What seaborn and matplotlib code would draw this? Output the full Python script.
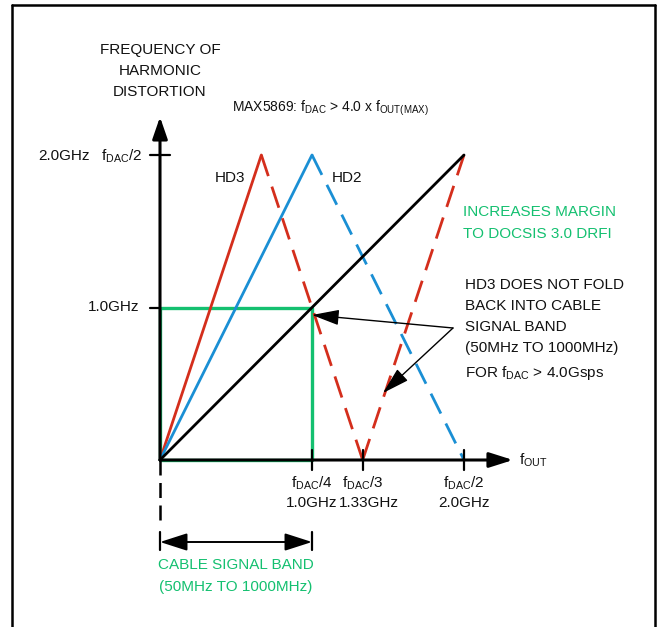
import matplotlib
matplotlib.use("Agg")
import matplotlib.pyplot as plt
from matplotlib import font_manager
from matplotlib.lines import Line2D
import seaborn as sns
import numpy as np

# ---------------- data (GHz) ----------------
fund_x = [0.0, 2.0]
fund_y = [0.0, 2.0]
hd2_solid_x = [0.0, 1.0]
hd2_solid_y = [0.0, 2.0]
hd2_dash_x = [1.0, 2.0]
hd2_dash_y = [2.0, 0.0]
hd3_solid_x = [0.0, 2.0 / 3]
hd3_solid_y = [0.0, 2.0]
hd3_dash1_x = [2.0 / 3, 4.0 / 3]
hd3_dash1_y = [2.0, 0.0]
hd3_dash2_x = [4.0 / 3, 2.0]
hd3_dash2_y = [0.0, 2.0]
band_x = [0.0, 0.0, 1.0, 1.0, 0.0]
band_y = [0.0, 1.0, 1.0, 0.0, 0.0]
xtick_pos = [1.0, 4.0 / 3, 2.0]
xtick_top = ["f$_{\\mathrm{DAC}}$/4", "f$_{\\mathrm{DAC}}$/3", "f$_{\\mathrm{DAC}}$/2"]
xtick_bot = ["1.0GHz", "1.33GHz", "2.0GHz"]
ytick_pos = [1.0, 2.0]

RED = "#d42e1c"
BLUE = "#1a8fd4"
GREEN = "#14c070"

sns.set_theme(style="white")
names = {f.name for f in font_manager.fontManager.ttflist}
if "Liberation Sans Narrow" in names:
    FONT, FS, FS_S = "Liberation Sans Narrow", 13, 11.5
else:
    FONT, FS, FS_S = "Liberation Sans", 11, 10
plt.rcParams["font.family"] = [FONT, "DejaVu Sans"]
plt.rcParams["mathtext.fontset"] = "custom"
plt.rcParams["mathtext.rm"] = FONT
plt.rcParams["mathtext.it"] = FONT
plt.rcParams["mathtext.bf"] = FONT

W, H = 657, 627
fig = plt.figure(figsize=(W / 100, H / 100), dpi=100)
ax = fig.add_axes([0, 0, 1, 1])
SX, SY = 152.0, 152.5
OX, OY = 160, 460
ax.set_xlim(-OX / SX, (W - OX) / SX)
ax.set_ylim((OY - H) / SY, OY / SY)
ax.axis("off")


def P(px, py):
    return (px / W, 1 - py / H)


def D(px, py):
    return ((px - OX) / SX, (OY - py) / SY)


LW = 2.0
DASH = (8, 4)
TXT = "#111111"

# green band rectangle
sns.lineplot(x=band_x, y=band_y, color=GREEN, lw=2.4, sort=False, estimator=None, ax=ax)

# curves
sns.lineplot(x=hd3_solid_x, y=hd3_solid_y, color=RED, lw=LW, sort=False, estimator=None, ax=ax)
sns.lineplot(x=hd2_solid_x, y=hd2_solid_y, color=BLUE, lw=LW, sort=False, estimator=None, ax=ax)
for xs, ys, c in [(hd3_dash1_x, hd3_dash1_y, RED), (hd3_dash2_x, hd3_dash2_y, RED),
                  (hd2_dash_x, hd2_dash_y, BLUE)]:
    l = sns.lineplot(x=xs, y=ys, color=c, lw=LW, sort=False, estimator=None, ax=ax).lines[-1]
    l.set_dashes(DASH)
sns.lineplot(x=fund_x, y=fund_y, color="black", lw=LW, sort=False, estimator=None, ax=ax)

# axes with arrows
ax.annotate("", xy=(0, (OY - 117) / SY), xytext=(0, 0),
            arrowprops=dict(arrowstyle="-|>,head_length=1.1,head_width=0.38", color="black",
                            lw=2.2, shrinkA=0, shrinkB=0))
ax.annotate("", xy=((513 - OX) / SX, 0), xytext=(0, 0),
            arrowprops=dict(arrowstyle="-|>,head_length=1.2,head_width=0.38", color="black",
                            lw=2.2, shrinkA=0, shrinkB=0))

# ticks
t = 10 / SX
for yv in ytick_pos:
    ax.plot([-t, t if yv == 2.0 else 0], [yv, yv], color="black", lw=1.6)
for xv in xtick_pos:
    ax.plot([xv, xv], [-t, t], color="black", lw=1.6)

# dashed vertical below origin
ax.plot([0, 0], [0, (OY - 523) / SY], color="black", lw=1.8, dashes=(6, 3))
# double arrow for band
yb = (OY - 542) / SY
ax.annotate("", xy=(1.0, yb), xytext=(0, yb),
            arrowprops=dict(arrowstyle="<|-|>,head_length=1.4,head_width=0.45", color="black",
                            lw=1.4, shrinkA=0, shrinkB=0))
for xv in [0.0, 1.0]:
    ax.plot([xv, xv], [(OY - 532) / SY, (OY - 550) / SY], color="black", lw=1.6)

# annotation arrows
src = D(453, 328)
for tgt in [D(312, 315), D(383, 393)]:
    ax.annotate("", xy=tgt, xytext=src,
                arrowprops=dict(arrowstyle="-|>,head_length=1.4,head_width=0.4", color="black",
                                lw=1.0, shrinkA=0, shrinkB=0))

# texts
fig.text(*P(160, 71), "FREQUENCY OF\nHARMONIC\nDISTORTION", ha="center", va="center",
         fontsize=FS, linespacing=1.64, color=TXT)
fig.text(*P(232, 108), "MAX5869: f$_{\\mathrm{DAC}}$ > 4.0 x f$_{\\mathrm{OUT(MAX)}}$",
         ha="left", va="center", fontsize=FS_S, color=TXT)
fig.text(*P(38, 156), "2.0GHz", ha="left", va="center", fontsize=FS, color=TXT)
fig.text(*P(142, 156), "f$_{\\mathrm{DAC}}$/2", ha="right", va="center", fontsize=FS, color=TXT)
fig.text(*P(139, 307), "1.0GHz", ha="right", va="center", fontsize=FS, color=TXT)
fig.text(*P(230, 178), "HD3", ha="center", va="center", fontsize=FS, color=TXT)
fig.text(*P(347, 178), "HD2", ha="center", va="center", fontsize=FS, color=TXT)
fig.text(*P(463, 223), "INCREASES MARGIN\nTO DOCSIS 3.0 DRFI", ha="left", va="center",
         fontsize=FS, color=GREEN, linespacing=1.78)
fig.text(*P(465, 330), "HD3 DOES NOT FOLD\nBACK INTO CABLE\nSIGNAL BAND\n(50MHz TO 1000MHz)\n"
         "FOR f$_{\\mathrm{DAC}}$ > 4.0Gsps", ha="left", va="center", fontsize=FS,
         color=TXT, linespacing=1.64)
fig.text(*P(519, 460), "f$_{\\mathrm{OUT}}$", ha="left", va="center", fontsize=FS, color=TXT)
for xv, a, b in zip(xtick_pos, xtick_top, xtick_bot):
    px = OX + xv * SX
    fig.text(*P(px, 483), a, ha="center", va="center", fontsize=FS, color=TXT)
    fig.text(*P(px + (6 if b == "1.33GHz" else 0), 503), b, ha="center", va="center",
             fontsize=FS, color=TXT)
fig.text(*P(236, 576), "CABLE SIGNAL BAND\n(50MHz TO 1000MHz)", ha="center", va="center",
         fontsize=FS, color=GREEN, linespacing=1.7)

# frame
for (x0, y0, x1, y1) in [(12, 5, 655, 5), (12, 5, 12, 627), (655, 5, 655, 627)]:
    fig.add_artist(Line2D([x0 / W, x1 / W], [1 - y0 / H, 1 - y1 / H], color="black",
                          lw=1.8, transform=fig.transFigure))

fig.savefig("out.png", dpi=100)
